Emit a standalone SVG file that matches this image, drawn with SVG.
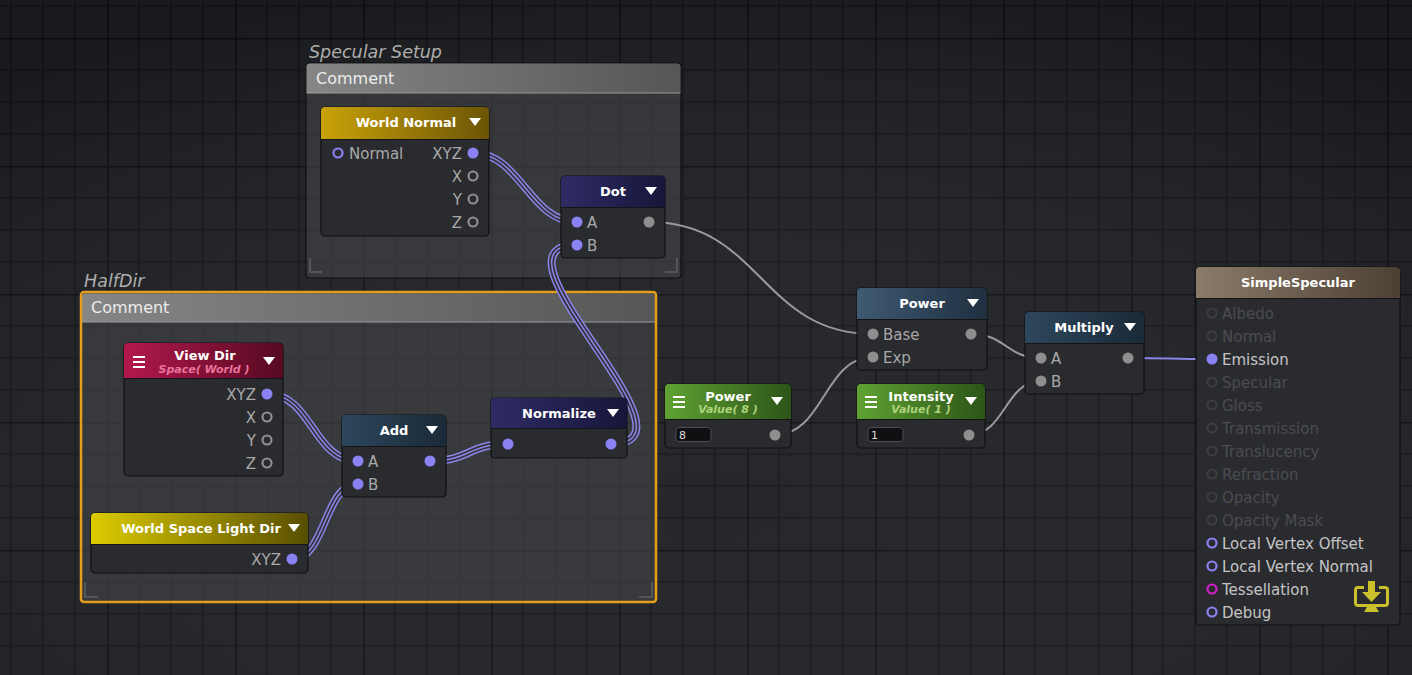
<svg xmlns="http://www.w3.org/2000/svg" width="1412" height="675" viewBox="0 0 1412 675">
<defs>
<pattern id="grid" patternUnits="userSpaceOnUse" x="107" y="38" width="128" height="128">
<rect width="128" height="128" fill="#1e1f23"/>
<g stroke="#16171a" stroke-width="2.5">
<line x1="32" y1="0" x2="32" y2="128"/><line x1="64" y1="0" x2="64" y2="128"/><line x1="96" y1="0" x2="96" y2="128"/>
<line x1="0" y1="32" x2="128" y2="32"/><line x1="0" y1="64" x2="128" y2="64"/><line x1="0" y1="96" x2="128" y2="96"/>
</g>
<g stroke="#0c0d0f" stroke-width="3">
<line x1="0" y1="0" x2="0" y2="128"/><line x1="0" y1="0" x2="128" y2="0"/>
</g>
</pattern>
<radialGradient id="vig" cx="0.5" cy="0.75" r="0.8">
<stop offset="0" stop-color="#ffffff" stop-opacity="0.035"/>
<stop offset="1" stop-color="#000000" stop-opacity="0.15"/>
</radialGradient>
<linearGradient id="gComment" x1="0" y1="0" x2="1" y2="0">
<stop offset="0" stop-color="#868686"/><stop offset="1" stop-color="#565656"/>
</linearGradient>
<linearGradient id="gGold" x1="0" y1="0" x2="1" y2="0">
<stop offset="0" stop-color="#c9a208"/><stop offset="1" stop-color="#6c5406"/>
</linearGradient>
<linearGradient id="gNavy" x1="0" y1="0" x2="1" y2="0">
<stop offset="0" stop-color="#2e2c64"/><stop offset="1" stop-color="#17163a"/>
</linearGradient>
<linearGradient id="gCrimson" x1="0" y1="0" x2="1" y2="0">
<stop offset="0" stop-color="#b3184c"/><stop offset="1" stop-color="#560a22"/>
</linearGradient>
<linearGradient id="gYellow" x1="0" y1="0" x2="1" y2="0">
<stop offset="0" stop-color="#dccb00"/><stop offset="1" stop-color="#584e02"/>
</linearGradient>
<linearGradient id="gTeal" x1="0" y1="0" x2="1" y2="0">
<stop offset="0" stop-color="#2d475c"/><stop offset="1" stop-color="#1a2a38"/>
</linearGradient>
<linearGradient id="gSteel" x1="0" y1="0" x2="1" y2="0">
<stop offset="0" stop-color="#3f5a72"/><stop offset="1" stop-color="#1f2f40"/>
</linearGradient>
<linearGradient id="gGreen" x1="0" y1="0" x2="1" y2="0">
<stop offset="0" stop-color="#5fa232"/><stop offset="1" stop-color="#2c5418"/>
</linearGradient>
<linearGradient id="gBrown" x1="0" y1="0" x2="1" y2="0">
<stop offset="0" stop-color="#8b7b69"/><stop offset="1" stop-color="#4c4034"/>
</linearGradient>
<style>
.body{fill:#2a2b2f;stroke:#0f1012;stroke-width:1.2}
.hdrline{stroke:#141416;stroke-width:1}
.title{font-family:"DejaVu Sans",sans-serif;font-weight:bold;font-size:13px;fill:#ffffff;text-anchor:middle}
.sub{font-family:"DejaVu Sans",sans-serif;font-weight:bold;font-style:italic;font-size:11px;text-anchor:middle}
.port{font-family:"DejaVu Sans",sans-serif;font-size:15px;fill:#a8a8a8}
.portR{font-family:"DejaVu Sans",sans-serif;font-size:15px;fill:#a8a8a8;text-anchor:end}
.dim{font-family:"DejaVu Sans",sans-serif;font-size:15px;fill:#4b4c50}
.lit{font-family:"DejaVu Sans",sans-serif;font-size:15px;fill:#c4c4c4}
.ctitle{font-family:"DejaVu Sans",sans-serif;font-style:italic;font-size:17.5px;fill:#adadad}
.chead{font-family:"DejaVu Sans",sans-serif;font-size:16px;fill:#ececec}
.pin{fill:#8a82f2}
.pinG{fill:#8e8e8e}
.holP{fill:none;stroke:#8a82f2;stroke-width:2.2}
.holG{fill:none;stroke:#8e8e8e;stroke-width:2.2}
.holD{fill:none;stroke:#3d3e42;stroke-width:2}
.tri{fill:#ffffff}
.w1{fill:none;stroke:#8a85e6;stroke-width:8}
.w2{fill:none;stroke:#34343f;stroke-width:5}
.w3{fill:none;stroke:#8a85e6;stroke-width:1.5}
.gw{fill:none;stroke:#9a9a9a;stroke-width:2}
.pw{fill:none;stroke:#8a85e6;stroke-width:2}
.val{fill:#0f1012;stroke:#4c4d52;stroke-width:1}
.valt{font-family:"DejaVu Sans",sans-serif;font-size:11px;fill:#dddddd}
.menu{fill:#ffffff}
</style>
</defs>

<g id="background">
<rect width="1412" height="675" fill="url(#grid)"/>
<rect width="1412" height="675" fill="url(#vig)"/>
</g>

<g id="comment-specular-setup">
<text class="ctitle" x="309" y="58">Specular Setup</text>
<rect x="306" y="63" width="375" height="215" rx="3" fill="#47484c" fill-opacity="0.55" stroke="#0e0f11" stroke-width="1.2"/>
<path d="M306.5,93 V66 A3 3 0 0 1 309.5,63.5 H677.5 A3 3 0 0 1 680.5,66 V93 Z" fill="url(#gComment)"/>
<line x1="306.5" y1="93" x2="680.5" y2="93" stroke="#9a9a9a" stroke-width="1"/>
<text class="chead" x="316" y="84">Comment</text>
<path d="M310,258 V272 H322 M677,258 V272 H665" fill="none" stroke="#55565a" stroke-width="2"/>
</g>

<g id="comment-halfdir">
<text class="ctitle" x="84" y="287">HalfDir</text>
<rect x="81" y="292" width="575" height="310" rx="3" fill="#47484c" fill-opacity="0.55"/>
<path d="M82,322 V296 A3 3 0 0 1 85,293.5 H652 A3 3 0 0 1 655,296 V322 Z" fill="url(#gComment)"/>
<line x1="82" y1="322" x2="655" y2="322" stroke="#9a9a9a" stroke-width="1"/>
<text class="chead" x="91" y="313">Comment</text>
<path d="M85,582 V597 H98 M652,582 V597 H639" fill="none" stroke="#55565a" stroke-width="2"/>
<rect x="81" y="292" width="575" height="310" rx="3" fill="none" stroke="#e39e1b" stroke-width="2.5"/>
</g>

<g id="connectors">
<g>
<path class="w1" d="M473,153 C520,153 530,222 577,222"/>
<path class="w2" d="M473,153 C520,153 530,222 577,222"/>
<path class="w3" d="M473,153 C520,153 530,222 577,222"/>
</g>
<g>
<path class="w1" d="M611,444 C711,444 477,245 577,245"/>
<path class="w2" d="M611,444 C711,444 477,245 577,245"/>
<path class="w3" d="M611,444 C711,444 477,245 577,245"/>
</g>
<g>
<path class="w1" d="M267,394 C312,394 313,461 358,461"/>
<path class="w2" d="M267,394 C312,394 313,461 358,461"/>
<path class="w3" d="M267,394 C312,394 313,461 358,461"/>
</g>
<g>
<path class="w1" d="M292,559 C326,559 324,484 358,484"/>
<path class="w2" d="M292,559 C326,559 324,484 358,484"/>
<path class="w3" d="M292,559 C326,559 324,484 358,484"/>
</g>
<g>
<path class="w1" d="M430,461 C470,461 468,444 508,444"/>
<path class="w2" d="M430,461 C470,461 468,444 508,444"/>
<path class="w3" d="M430,461 C470,461 468,444 508,444"/>
</g>
<path class="gw" d="M649,222 C761,222 761,334 873,334"/>
<path class="gw" d="M775,435 C824,435 824,357 873,357"/>
<path class="gw" d="M971,334 C1006,334 1006,358 1041,358"/>
<path class="gw" d="M969,435 C1005,435 1005,381 1041,381"/>
<path class="pw" d="M1128,358 C1170,358 1170,359 1212,359"/>
</g>

<g id="node-world-normal">
<rect class="body" x="321" y="107" width="168" height="129" rx="4"/>
<path d="M321,139 V111 A4 4 0 0 1 325,107 H485 A4 4 0 0 1 489,111 V139 Z" fill="url(#gGold)"/>
<line class="hdrline" x1="321" y1="139.5" x2="489" y2="139.5"/>
<text class="title" x="406" y="127">World Normal</text>
<polygon class="tri" points="469,118 481,118 475,126"/>
<circle class="holP" cx="338" cy="153" r="4.5"/>
<text class="port" x="349" y="158.5">Normal</text>
<text class="portR" x="462" y="158.5">XYZ</text>
<circle class="pin" cx="473" cy="153" r="5.5"/>
<text class="portR" x="462" y="181.5">X</text>
<circle class="holG" cx="473" cy="176" r="4.5"/>
<text class="portR" x="462" y="204.5">Y</text>
<circle class="holG" cx="473" cy="199" r="4.5"/>
<text class="portR" x="462" y="227.5">Z</text>
<circle class="holG" cx="473" cy="222" r="4.5"/>
</g>

<g id="node-dot">
<rect class="body" x="561" y="176" width="104" height="82" rx="4"/>
<path d="M561,207 V180 A4 4 0 0 1 565,176 H661 A4 4 0 0 1 665,180 V207 Z" fill="url(#gNavy)"/>
<line class="hdrline" x1="561" y1="207.5" x2="665" y2="207.5"/>
<text class="title" x="613" y="196">Dot</text>
<polygon class="tri" points="645,187 657,187 651,195"/>
<circle class="pin" cx="577" cy="222" r="5.5"/>
<text class="port" x="587" y="227.5">A</text>
<circle class="pin" cx="577" cy="245" r="5.5"/>
<text class="port" x="587" y="250.5">B</text>
<circle class="pinG" cx="649" cy="222" r="5.5"/>
</g>

<g id="node-view-dir">
<rect class="body" x="124" y="343" width="159" height="133" rx="4"/>
<path d="M124,378 V347 A4 4 0 0 1 128,343 H279 A4 4 0 0 1 283,347 V378 Z" fill="url(#gCrimson)"/>
<line class="hdrline" x1="124" y1="378.5" x2="283" y2="378.5"/>
<rect class="menu" x="133" y="356" width="12" height="2"/>
<rect class="menu" x="133" y="361" width="12" height="2"/>
<rect class="menu" x="133" y="366" width="12" height="2"/>
<text class="title" x="205" y="360">View Dir</text>
<text class="sub" x="204" y="373" fill="#e8739c">Space( World )</text>
<polygon class="tri" points="263,357 275,357 269,365"/>
<text class="portR" x="256" y="399.5">XYZ</text>
<circle class="pin" cx="267" cy="394" r="5.5"/>
<text class="portR" x="256" y="422.5">X</text>
<circle class="holG" cx="267" cy="417" r="4.5"/>
<text class="portR" x="256" y="445.5">Y</text>
<circle class="holG" cx="267" cy="440" r="4.5"/>
<text class="portR" x="256" y="468.5">Z</text>
<circle class="holG" cx="267" cy="463" r="4.5"/>
</g>

<g id="node-world-space-light-dir">
<rect class="body" x="91" y="513" width="217" height="60" rx="4"/>
<path d="M91,544 V517 A4 4 0 0 1 95,513 H304 A4 4 0 0 1 308,517 V544 Z" fill="url(#gYellow)"/>
<line class="hdrline" x1="91" y1="544.5" x2="308" y2="544.5"/>
<text class="title" x="201" y="533">World Space Light Dir</text>
<polygon class="tri" points="288,524 300,524 294,532"/>
<text class="portR" x="281" y="564.5">XYZ</text>
<circle class="pin" cx="292" cy="559" r="5.5"/>
</g>

<g id="node-add">
<rect class="body" x="342" y="415" width="104" height="82" rx="4"/>
<path d="M342,446 V419 A4 4 0 0 1 346,415 H442 A4 4 0 0 1 446,419 V446 Z" fill="url(#gTeal)"/>
<line class="hdrline" x1="342" y1="446.5" x2="446" y2="446.5"/>
<text class="title" x="394" y="435">Add</text>
<polygon class="tri" points="426,426 438,426 432,434"/>
<circle class="pin" cx="358" cy="461" r="5.5"/>
<text class="port" x="368" y="466.5">A</text>
<circle class="pin" cx="358" cy="484" r="5.5"/>
<text class="port" x="368" y="489.5">B</text>
<circle class="pin" cx="430" cy="461" r="5.5"/>
</g>

<g id="node-normalize">
<rect class="body" x="491" y="398" width="136" height="60" rx="4"/>
<path d="M491,428 V402 A4 4 0 0 1 495,398 H623 A4 4 0 0 1 627,402 V428 Z" fill="url(#gNavy)"/>
<line class="hdrline" x1="491" y1="428.5" x2="627" y2="428.5"/>
<text class="title" x="559" y="418">Normalize</text>
<polygon class="tri" points="607,409 619,409 613,417"/>
<circle class="pin" cx="508" cy="444" r="5.5"/>
<circle class="pin" cx="611" cy="444" r="5.5"/>
</g>

<g id="node-power-value">
<rect class="body" x="665" y="384" width="126" height="64" rx="4"/>
<path d="M665,419 V388 A4 4 0 0 1 669,384 H787 A4 4 0 0 1 791,388 V419 Z" fill="url(#gGreen)"/>
<line class="hdrline" x1="665" y1="419.5" x2="791" y2="419.5"/>
<rect class="menu" x="673" y="396" width="12" height="2"/>
<rect class="menu" x="673" y="401" width="12" height="2"/>
<rect class="menu" x="673" y="406" width="12" height="2"/>
<text class="title" x="728" y="401">Power</text>
<text class="sub" x="728" y="413" fill="#acd47c">Value( 8 )</text>
<polygon class="tri" points="771,397 783,397 777,405"/>
<rect class="val" x="676" y="427.5" width="35" height="14" rx="3"/>
<text class="valt" x="679" y="438.5">8</text>
<circle class="pinG" cx="775" cy="435" r="5.5"/>
</g>

<g id="node-intensity">
<rect class="body" x="857" y="384" width="128" height="64" rx="4"/>
<path d="M857,419 V388 A4 4 0 0 1 861,384 H981 A4 4 0 0 1 985,388 V419 Z" fill="url(#gGreen)"/>
<line class="hdrline" x1="857" y1="419.5" x2="985" y2="419.5"/>
<rect class="menu" x="865" y="396" width="12" height="2"/>
<rect class="menu" x="865" y="401" width="12" height="2"/>
<rect class="menu" x="865" y="406" width="12" height="2"/>
<text class="title" x="921" y="401">Intensity</text>
<text class="sub" x="921" y="413" fill="#acd47c">Value( 1 )</text>
<polygon class="tri" points="965,397 977,397 971,405"/>
<rect class="val" x="868" y="427.5" width="35" height="14" rx="3"/>
<text class="valt" x="871" y="438.5">1</text>
<circle class="pinG" cx="969" cy="435" r="5.5"/>
</g>

<g id="node-power">
<rect class="body" x="857" y="288" width="130" height="82" rx="4"/>
<path d="M857,319 V292 A4 4 0 0 1 861,288 H983 A4 4 0 0 1 987,292 V319 Z" fill="url(#gSteel)"/>
<line class="hdrline" x1="857" y1="319.5" x2="987" y2="319.5"/>
<text class="title" x="922" y="308">Power</text>
<polygon class="tri" points="967,299 979,299 973,307"/>
<circle class="pinG" cx="873" cy="334" r="5.5"/>
<text class="port" x="883" y="339.5">Base</text>
<circle class="pinG" cx="873" cy="357" r="5.5"/>
<text class="port" x="883" y="362.5">Exp</text>
<circle class="pinG" cx="971" cy="334" r="5.5"/>
</g>

<g id="node-multiply">
<rect class="body" x="1025" y="312" width="119" height="82" rx="4"/>
<path d="M1025,343 V316 A4 4 0 0 1 1029,312 H1140 A4 4 0 0 1 1144,316 V343 Z" fill="url(#gTeal)"/>
<line class="hdrline" x1="1025" y1="343.5" x2="1144" y2="343.5"/>
<text class="title" x="1084" y="332">Multiply</text>
<polygon class="tri" points="1124,323 1136,323 1130,331"/>
<circle class="pinG" cx="1041" cy="358" r="5.5"/>
<text class="port" x="1051" y="363.5">A</text>
<circle class="pinG" cx="1041" cy="381" r="5.5"/>
<text class="port" x="1051" y="386.5">B</text>
<circle class="pinG" cx="1128" cy="358" r="5.5"/>
</g>

<g id="node-simple-specular">
<rect class="body" x="1196" y="267" width="204" height="358" rx="4" fill="#2c2d31"/>
<path d="M1196,298 V271 A4 4 0 0 1 1200,267 H1396 A4 4 0 0 1 1400,271 V298 Z" fill="url(#gBrown)"/>
<line class="hdrline" x1="1196" y1="298.5" x2="1400" y2="298.5"/>
<text class="title" x="1298" y="287">SimpleSpecular</text>
<circle class="holD" cx="1212" cy="313" r="4.5"/><text class="dim" x="1222" y="318.5">Albedo</text>
<circle class="holD" cx="1212" cy="336" r="4.5"/><text class="dim" x="1222" y="341.5">Normal</text>
<circle class="pin" cx="1212" cy="359" r="5.5"/><text class="lit" x="1222" y="364.5">Emission</text>
<circle class="holD" cx="1212" cy="382" r="4.5"/><text class="dim" x="1222" y="387.5">Specular</text>
<circle class="holD" cx="1212" cy="405" r="4.5"/><text class="dim" x="1222" y="410.5">Gloss</text>
<circle class="holD" cx="1212" cy="428" r="4.5"/><text class="dim" x="1222" y="433.5">Transmission</text>
<circle class="holD" cx="1212" cy="451" r="4.5"/><text class="dim" x="1222" y="456.5">Translucency</text>
<circle class="holD" cx="1212" cy="474" r="4.5"/><text class="dim" x="1222" y="479.5">Refraction</text>
<circle class="holD" cx="1212" cy="497" r="4.5"/><text class="dim" x="1222" y="502.5">Opacity</text>
<circle class="holD" cx="1212" cy="520" r="4.5"/><text class="dim" x="1222" y="525.5">Opacity Mask</text>
<circle class="holP" cx="1212" cy="543" r="4.5"/><text class="lit" x="1222" y="548.5">Local Vertex Offset</text>
<circle class="holP" cx="1212" cy="566" r="4.5"/><text class="lit" x="1222" y="571.5">Local Vertex Normal</text>
<circle cx="1212" cy="589" r="4.5" fill="none" stroke="#d21fc8" stroke-width="2.2"/><text class="lit" x="1222" y="594.5">Tessellation</text>
<circle class="holP" cx="1212" cy="612" r="4.5"/><text class="lit" x="1222" y="617.5">Debug</text>
<g fill="#c9c02c">
<path d="M1364,587.5 H1358 Q1355.5,587.5 1355.5,590 V603 Q1355.5,605.5 1358,605.5 H1385 Q1387.5,605.5 1387.5,603 V590 Q1387.5,587.5 1385,587.5 H1379" fill="none" stroke="#c9c02c" stroke-width="3"/>
<rect x="1368" y="581" width="7" height="12"/>
<polygon points="1362,592 1381,592 1371.5,602"/>
<polygon points="1367,607 1376,607 1379,612 1364,612"/>
</g>
</g>
</svg>
